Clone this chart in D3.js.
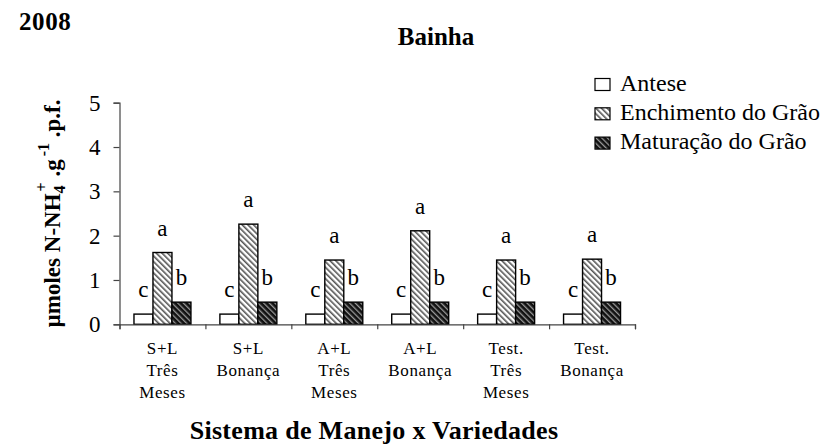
<!DOCTYPE html>
<html>
<head>
<meta charset="utf-8">
<script src="https://cdn.jsdelivr.net/npm/d3@7"></script>
<style>
  body { margin: 0; background: #fff; }
  text { font-family: "Liberation Serif", "Times New Roman", serif; fill: #000; }
</style>
</head>
<body>
<div id="chart"></div>
<script>
const categories = [
  ['S+L', 'Três', 'Meses'],
  ['S+L', 'Bonança'],
  ['A+L', 'Três', 'Meses'],
  ['A+L', 'Bonança'],
  ['Test.', 'Três', 'Meses'],
  ['Test.', 'Bonança']
];
const seriesNames = ['Antese', 'Enchimento do Grão', 'Maturação do Grão'];
const antese = [0.23, 0.23, 0.23, 0.23, 0.23, 0.23];
const enchimento = [1.62, 2.26, 1.45, 2.11, 1.45, 1.47];
const maturacao = [0.5, 0.5, 0.5, 0.5, 0.5, 0.5];
const letters = [['c', 'a', 'b'], ['c', 'a', 'b'], ['c', 'a', 'b'], ['c', 'a', 'b'], ['c', 'a', 'b'], ['c', 'a', 'b']];
const yTicks = [0, 1, 2, 3, 4, 5];

const width = 827, height = 446;
const plotLeft = 119.5, plotRight = 635, plotTop = 102.7, plotBottom = 324.3;

const svg = d3.select('#chart').append('svg')
  .attr('width', width)
  .attr('height', height);

// hatch fills
const defs = svg.append('defs');
const p1 = defs.append('pattern')
  .attr('id', 'hatchLight')
  .attr('patternUnits', 'userSpaceOnUse')
  .attr('width', 4).attr('height', 4)
  .attr('patternTransform', 'rotate(-45)');
p1.append('rect').attr('width', 4).attr('height', 4).attr('fill', '#fff');
p1.append('rect').attr('width', 1.6).attr('height', 4).attr('fill', '#555');

const p2 = defs.append('pattern')
  .attr('id', 'hatchDark')
  .attr('patternUnits', 'userSpaceOnUse')
  .attr('width', 4).attr('height', 4)
  .attr('patternTransform', 'rotate(-45)');
p2.append('rect').attr('width', 4).attr('height', 4).attr('fill', '#111');
p2.append('rect').attr('width', 1.3).attr('height', 4).attr('fill', '#999');

const fills = ['#fff', 'url(#hatchLight)', 'url(#hatchDark)'];

const x0 = d3.scaleBand()
  .domain(d3.range(categories.length))
  .range([plotLeft, plotRight])
  .paddingInner(0.337)
  .paddingOuter(0.1685);

const x1 = d3.scaleBand()
  .domain(d3.range(seriesNames.length))
  .range([0, x0.bandwidth()]);

const y = d3.scaleLinear().domain([0, 5]).range([plotBottom, plotTop]);

const xEdges = d3.scaleLinear().domain([0, categories.length]).range([plotLeft, plotRight]);

// y axis
const yAxis = svg.append('g')
  .attr('transform', `translate(${plotLeft},0)`)
  .call(d3.axisLeft(y).tickValues(yTicks).tickSize(6).tickPadding(13).tickFormat(d3.format('d')));
yAxis.attr('font-family', null).attr('font-size', null);
yAxis.select('.domain').attr('stroke', '#444').attr('stroke-width', 1.2);
yAxis.selectAll('.tick line').attr('stroke', '#444').attr('stroke-width', 1.2);
yAxis.selectAll('.tick text')
  .style('font-size', '23px')
  .attr('fill', '#000');

// bars
const rows = d3.range(categories.length).map(i => [antese[i], enchimento[i], maturacao[i]]);
const groups = svg.selectAll('.grp')
  .data(rows)
  .enter()
  .append('g')
  .attr('class', 'grp')
  .attr('transform', (d, i) => `translate(${x0(i)},0)`);

groups.selectAll('rect')
  .data(d => d)
  .enter()
  .append('rect')
  .attr('x', (d, j) => x1(j))
  .attr('y', d => y(d))
  .attr('width', x1.bandwidth())
  .attr('height', d => y(0) - y(d))
  .attr('fill', (d, j) => fills[j])
  .attr('stroke', '#000')
  .attr('stroke-width', 1.4);

groups.selectAll('.lbl')
  .data((d, i) => d.map((v, j) => ({ v, t: letters[i][j] })))
  .enter()
  .append('text')
  .attr('class', 'lbl')
  .attr('x', (d, j) => x1(j) + x1.bandwidth() / 2)
  .attr('y', d => y(d.v) - 17)
  .attr('text-anchor', 'middle')
  .style('font-size', '23px')
  .text(d => d.t);

// x axis
const xAxis = svg.append('g')
  .attr('transform', `translate(0,${plotBottom})`)
  .call(d3.axisBottom(xEdges).tickValues(d3.range(categories.length + 1)).tickSize(5).tickFormat(''));
xAxis.select('.domain').attr('stroke', '#444').attr('stroke-width', 1.2);
xAxis.selectAll('.tick line').attr('stroke', '#444').attr('stroke-width', 1.2);

const catLabels = svg.selectAll('.cat')
  .data(categories)
  .enter()
  .append('text')
  .attr('class', 'cat')
  .attr('text-anchor', 'middle')
  .style('font-size', '17px')
  .style('letter-spacing', '0.6px')
  .attr('transform', (d, i) => `translate(${x0(i) + x0.bandwidth() / 2},354)`);
catLabels.selectAll('tspan')
  .data(d => d)
  .enter()
  .append('tspan')
  .attr('x', 0)
  .attr('y', (d, k) => k * 22)
  .text(d => d);

// titles
svg.append('text')
  .attr('x', 19).attr('y', 30)
  .style('font-size', '25px').style('font-weight', 'bold')
  .style('letter-spacing', '0.6px')
  .text('2008');

svg.append('text')
  .attr('x', 436).attr('y', 45)
  .attr('text-anchor', 'middle')
  .style('font-size', '25px').style('font-weight', 'bold')
  .text('Bainha');

svg.append('text')
  .attr('x', 374).attr('y', 439)
  .attr('text-anchor', 'middle')
  .style('font-size', '26px').style('font-weight', 'bold')
  .style('letter-spacing', '0.3px')
  .text('Sistema de Manejo x Variedades');

const yt = svg.append('text')
  .attr('transform', 'translate(60,213.5) rotate(-90)')
  .attr('text-anchor', 'middle')
  .style('font-size', '23px').style('font-weight', 'bold');
yt.append('tspan').text('µmoles N-NH');
yt.append('tspan').attr('dy', 5).style('font-size', '16px').text('4');
yt.append('tspan').attr('dx', -6).attr('dy', -18).style('font-size', '16px').text('+');
yt.append('tspan').attr('dy', 13).text(' .g');
yt.append('tspan').attr('dx', 3).attr('dy', -11).style('font-size', '16px').text('-1');
yt.append('tspan').attr('dy', 11).text(' .p.f.');

// legend
const legend = svg.selectAll('.leg')
  .data(seriesNames)
  .enter()
  .append('g')
  .attr('class', 'leg')
  .attr('transform', (d, i) => `translate(595,${90.5 + i * 29.3})`);
legend.append('rect')
  .attr('x', 0).attr('y', -12)
  .attr('width', 15).attr('height', 12)
  .attr('fill', (d, i) => fills[i])
  .attr('stroke', '#000')
  .attr('stroke-width', 1.2);
legend.append('text')
  .attr('x', 25).attr('y', 0)
  .style('font-size', '24px')
  .text(d => d);
</script>
</body>
</html>
